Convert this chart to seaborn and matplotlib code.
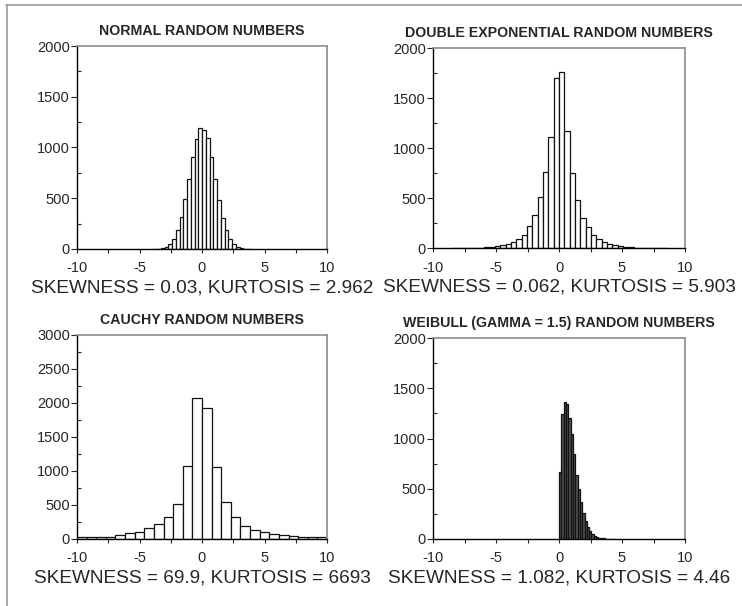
import numpy as np
import pandas as pd
import matplotlib
matplotlib.use("Agg")
import matplotlib.pyplot as plt
import seaborn as sns
from matplotlib.lines import Line2D
from matplotlib.ticker import MultipleLocator

sns.set_style("white")
plt.rcParams['font.family'] = ['Liberation Sans', 'DejaVu Sans']

# ---------------- data ----------------
titles = ["NORMAL RANDOM NUMBERS",
          "DOUBLE EXPONENTIAL RANDOM NUMBERS",
          "CAUCHY RANDOM NUMBERS",
          "WEIBULL (GAMMA = 1.5) RANDOM NUMBERS"]
stat_labels = ["SKEWNESS = 0.03, KURTOSIS = 2.962",
               "SKEWNESS = 0.062, KURTOSIS = 5.903",
               "SKEWNESS = 69.9, KURTOSIS = 6693",
               "SKEWNESS = 1.082, KURTOSIS = 4.46"]
y_max = [2000, 2000, 3000, 2000]
x_ticks = [-10, -5, 0, 5, 10]

# histogram class lower bound and class width per panel
bin_start = [-3.9, -8.48, -10.0, 0.0]
bin_width = [0.3, 0.424, 0.7692, 0.184]

normal_counts = [1, 3, 9, 22, 50, 100, 190, 315, 490, 685, 910, 1080, 1195,
                 1170, 1090, 905, 690, 480, 305, 185, 95, 45, 20, 8, 3, 1]
dexp_counts = [1, 1, 1, 2, 3, 5, 7, 11, 17, 27, 42, 60, 90, 135, 220, 330, 510, 760, 1110, 1700,
               1760, 1170, 750, 480, 305, 210, 135, 92, 60, 40, 27, 18, 12, 8, 5, 3, 2, 1, 1, 1]
cauchy_counts = [25, 25, 30, 35, 60, 95, 110, 160, 220, 330, 520, 1070, 2080,
                 1920, 1060, 540, 325, 195, 130, 100, 75, 60, 50, 30, 25, 25]
weibull_counts = [670, 1240, 1360, 1340, 1200, 1040, 850, 640, 495, 370, 260, 180,
                  120, 80, 52, 33, 21, 13, 8, 5, 3, 2, 1, 1]

all_counts = [normal_counts, dexp_counts, cauchy_counts, weibull_counts]

# ---------------- figure ----------------
fig = plt.figure(figsize=(7.42, 6.06), dpi=100)
W, H = 742, 606
boxes = [(77, 46, 250, 203), (433, 48, 252, 200),
         (77, 335, 250, 204), (433, 338, 252, 201)]
faces = ["white", "white", "white", "#505050"]

for i, (l, t, w, h) in enumerate(boxes):
    ax = fig.add_axes([l / W, 1 - (t + h) / H, w / W, h / H])
    counts = np.array(all_counts[i], dtype=float)
    n = len(counts)
    edges = bin_start[i] + bin_width[i] * np.arange(n + 1)
    centers = (edges[:-1] + edges[1:]) / 2
    df = pd.DataFrame({"x": centers, "w": counts})
    sns.histplot(data=df, x="x", weights="w", bins=[float(e) for e in edges], ax=ax,
                 color=faces[i], edgecolor="#111111", linewidth=0.9, alpha=1.0)
    ax.set_xlim(-10, 10)
    ax.set_ylim(0, y_max[i])
    ax.set_xticks(x_ticks)
    ax.set_xticklabels([str(v) for v in x_ticks])
    ax.xaxis.set_minor_locator(MultipleLocator(2.5))
    ax.yaxis.set_major_locator(MultipleLocator(500))
    ax.yaxis.set_minor_locator(MultipleLocator(250))
    ax.set_ylabel("")
    ax.set_xlabel(stat_labels[i], fontsize=13.7, labelpad=3)
    ax.set_title(titles[i], fontsize=10.2, fontweight="bold", pad=8)
    ax.tick_params(axis="x", which="both", direction="out", length=3,
                   width=0.8, labelsize=10.5, pad=6, bottom=True)
    ax.tick_params(axis="y", which="major", direction="out", length=4,
                   width=0.8, labelsize=10.5, pad=1, left=True)
    ax.tick_params(axis="y", which="minor", direction="in", length=3,
                   width=0.8, left=True)
    for s in ["left", "bottom"]:
        ax.spines[s].set_color("black")
        ax.spines[s].set_linewidth(1.0)
    for s in ["top", "right"]:
        ax.spines[s].set_color("#8c8c8c")
        ax.spines[s].set_linewidth(1.2)

# outer frame lines (top and left)
fig.add_artist(Line2D([6 / W, 1], [1 - 5 / H, 1 - 5 / H], color="#9a9a9a", lw=1.2))
fig.add_artist(Line2D([7 / W, 7 / W], [0, 1 - 5 / H], color="#9a9a9a", lw=1.2))

fig.savefig("out.png", dpi=100, facecolor="white")
